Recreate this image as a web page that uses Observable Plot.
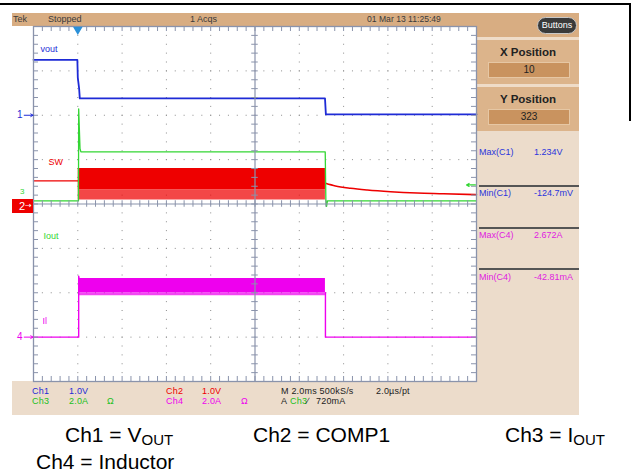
<!DOCTYPE html>
<html><head><meta charset="utf-8">
<script src="https://cdn.jsdelivr.net/npm/d3@7"></script>
<script src="https://cdn.jsdelivr.net/npm/@observablehq/plot@0.6"></script>
<style>
html,body{margin:0;padding:0;background:#fff;}
#wrap{position:relative;width:633px;height:472px;overflow:hidden;font-family:"Liberation Sans",Arial,sans-serif;}
.abs{position:absolute;white-space:nowrap;}
.s{font-size:9px;line-height:10px;}
.cap{font-size:21px;line-height:21px;color:#000;}
.cap sub{font-size:15px;vertical-align:baseline;position:relative;top:3px;}
</style></head><body><div id="wrap"></div>
<script>
// ---------- colours ----------
const BLUE = "#1e2bd6", RED = "#ee0000", GREEN = "#33d633", MAGENTA = "#ee00ee";
const GRID = "#8a93ab";

// ---------- channel settings (offset in divisions, units per division) ----------
const ch1Offset = 2,    ch1PerDiv = 1.0;   // V
const ch2Offset = 0,    ch2PerDiv = 1.0;   // V
const ch3Offset = 0.07, ch3PerDiv = 2.0;   // A
const ch4Offset = -3,   ch4PerDiv = 2.0;   // A

// ---------- data (time in ms, 2.0 ms/div, trigger at 0) ----------
const ch1Time  = [-2, -0.02, 0.0, 0.06, 0.09, 11.16, 11.2, 18];
const ch1Volts = [1.25, 1.25, 0.85, 0.6, 0.38, 0.38, 0.02, 0.02];

const ch2PreTime  = [-2, 0.02];
const ch2PreVolts = [0.52, 0.52];
const ch2BandTime = [0.02, 11.18];
const ch2BandHigh = [0.80, 0.80];
const ch2BandLow  = [0.32, 0.32];
const ch2SpikeLow = [0.09, 0.09];
const ch2DecayTime  = [11.18, 11.63, 12.31, 13.07, 14.12, 15.32, 16.51, 18.0];
const ch2DecayVolts = [0.466, 0.406, 0.354, 0.315, 0.277, 0.248, 0.232, 0.21];

const ch3Time = [-2, 0.03, 0.04, 0.1, 0.14, 11.17, 11.2, 11.23, 11.27, 18];
const ch3Amps = [0, 0, 4.15, 2.35, 2.21, 2.21, 0, -0.25, 0, 0];

const ch4PreTime  = [-2, 0.04, 0.04, 0.06];
const ch4PreAmps  = [0, 0, 2.75, 2.64];
const ch4BandTime = [0.05, 11.18];
const ch4BandHigh = [2.64, 2.64];
const ch4BandLow  = [2.0, 2.0];
const ch4SpikeLow = [1.87, 1.87];
const ch4PostTime = [11.18, 11.18, 18];
const ch4PostAmps = [2.0, 0, 0];

// trace labels
const traceLabels = ["vout", "SW", "Iout", "Il"];
const labelTime   = [-1.68, -1.32, -1.55, -1.59];
const labelDiv    = [3.50, 0.94, -0.73, -2.63];
const labelColor  = [BLUE, RED, GREEN, MAGENTA];

// ground markers
const markerText  = ["1", "4"];
const markerDiv   = [ch1Offset, ch4Offset];
const markerColor = [BLUE, MAGENTA];

// trigger
const triggerTime = [0];
const triggerLevelAmps = 0.72;

// graticule (10 x 8 divisions, 5 minor each)
const minorX = d3.range(0, 51).map(i => -2 + i * 0.4);
const minorY = d3.range(0, 41).map(i => -4 + i * 0.2);
const majorX = d3.range(1, 10).map(i => -2 + i * 2).filter(v => v !== 8);
const majorY = d3.range(1, 8).map(i => -4 + i).filter(v => v !== 0);

// ---------- build tables ----------
const toDiv = (off, per) => v => off + v / per;
const c1 = d3.zip(ch1Time, ch1Volts).map(([t, v]) => ({t, y: toDiv(ch1Offset, ch1PerDiv)(v)}));
const c2pre = d3.zip(ch2PreTime, ch2PreVolts).map(([t, v]) => ({t, y: toDiv(ch2Offset, ch2PerDiv)(v)}));
const c2band = ch2BandTime.map((t, i) => ({t,
  hi: toDiv(ch2Offset, ch2PerDiv)(ch2BandHigh[i]),
  lo: toDiv(ch2Offset, ch2PerDiv)(ch2BandLow[i]),
  sp: toDiv(ch2Offset, ch2PerDiv)(ch2SpikeLow[i])}));
const c2decay = d3.zip(ch2DecayTime, ch2DecayVolts).map(([t, v]) => ({t, y: toDiv(ch2Offset, ch2PerDiv)(v)}));
const c3 = d3.zip(ch3Time, ch3Amps).map(([t, v]) => ({t, y: toDiv(ch3Offset, ch3PerDiv)(v)}));
const c4pre = d3.zip(ch4PreTime, ch4PreAmps).map(([t, v]) => ({t, y: toDiv(ch4Offset, ch4PerDiv)(v)}));
const c4band = ch4BandTime.map((t, i) => ({t,
  hi: toDiv(ch4Offset, ch4PerDiv)(ch4BandHigh[i]),
  lo: toDiv(ch4Offset, ch4PerDiv)(ch4BandLow[i]),
  sp: toDiv(ch4Offset, ch4PerDiv)(ch4SpikeLow[i])}));
const c4post = d3.zip(ch4PostTime, ch4PostAmps).map(([t, v]) => ({t, y: toDiv(ch4Offset, ch4PerDiv)(v)}));
const labels = traceLabels.map((s, i) => ({s, t: labelTime[i], y: labelDiv[i], c: labelColor[i]}));
const markers = markerText.map((s, i) => ({s, y: markerDiv[i], c: markerColor[i]}));

// ---------- HTML panels ----------
const wrap = document.getElementById("wrap");
function box(css, html = "", cls = "abs") {
  const d = document.createElement("div");
  d.className = cls; d.style.cssText = css; d.innerHTML = html; wrap.appendChild(d); return d;
}
// outer frame
box("left:0;top:3px;width:631px;height:2px;background:#000;");
box("left:629px;top:3px;width:2px;height:118px;background:#000;");
// header
box("left:12px;top:13px;width:567px;height:13px;background:#d8ad82;");
box("left:13px;top:14px;color:#3a3a3a;", "Tek", "abs s");
box("left:48px;top:14px;color:#3a3a3a;", "Stopped", "abs s");
box("left:190px;top:14px;color:#3a3a3a;", "1 Acqs", "abs s");
box("left:367px;top:14px;color:#3a3a3a;font-size:8.6px;", "01 Mar 13 11:25:49", "abs s");
// right panel
box("left:477px;top:26px;width:102px;height:11px;background:#d8ad82;");
const sec = (top, title, val) => {
  box(`left:477px;top:${top}px;width:102px;height:44px;background:#dcb48b;border-top:3px solid #efdcc8;`);
  box(`left:477px;top:${top + 9}px;width:102px;text-align:center;font-weight:bold;font-size:11.5px;line-height:13px;color:#222;`, title);
  box(`left:488px;top:${top + 25}px;width:80px;height:14px;background:#c9935f;border:1px solid #e6c7a4;text-align:center;font-size:10px;line-height:14px;color:#222;`, val);
};
sec(37, "X Position", "10");
sec(84, "Y Position", "323");
box("left:477px;top:131px;width:102px;height:284px;background:#ecdccb;");
box("left:537px;top:17px;width:38px;height:15px;background:#3a3a3a;border:1px solid #c8c8c8;border-radius:9px;color:#fff;font-size:9px;line-height:15px;text-align:center;", "Buttons");
const meas = [["Max(C1)", "1.234V", 152, "#2a35dd"], ["Min(C1)", "-124.7mV", 193, "#2a35dd"],
              ["Max(C4)", "2.672A", 235, "#e020e0"], ["Min(C4)", "-42.81mA", 277, "#e020e0"]];
meas.forEach(([a, b, y, c]) => {
  box(`left:479px;top:${y - 5}px;color:${c};`, a, "abs s");
  box(`left:534px;top:${y - 5}px;color:${c};`, b, "abs s");
});
[185, 227, 268].forEach(y => box(`left:479px;top:${y}px;width:100px;height:1.5px;background:#555;`));
// bottom info panel
box("left:12px;top:381px;width:567px;height:34px;background:#ecdccb;");
const info = [
  ["Ch1", 32, 386, BLUE], ["1.0V", 69, 386, BLUE], ["Ch2", 166, 386, RED], ["1.0V", 202, 386, RED],
  ["M 2.0ms 500kS/s", 281, 386, "#222"], ["2.0\u00b5s/pt", 376, 386, "#222"],
  ["Ch3", 32, 396, "#22c022"], ["2.0A", 69, 396, "#22c022"], ["\u03a9", 107, 396, "#22c022"],
  ["Ch4", 166, 396, MAGENTA], ["2.0A", 202, 396, MAGENTA], ["\u03a9", 241, 396, MAGENTA],
  ["A", 281, 396, "#222"], ["Ch3", 290, 396, "#22c022"], ["\u2215", 307, 396, "#222"], ["720mA", 316, 396, "#222"]
];
info.forEach(([s, x, y, c]) => box(`left:${x}px;top:${y}px;color:${c};letter-spacing:0.2px;`, s, "abs s"));
// caption
box("left:65px;top:424px;", "Ch1 = V<sub>OUT</sub>", "abs cap");
box("left:253px;top:424px;", "Ch2 = COMP1", "abs cap");
box("left:505px;top:424px;", "Ch3 = I<sub>OUT</sub>", "abs cap");
box("left:36px;top:451px;", "Ch4 = Inductor", "abs cap");

// ---------- plot ----------
const tick = 0.113, tickX = 0.226;
const plot = Plot.plot({
  width: 633, height: 472,
  marginTop: 26, marginLeft: 33, marginRight: 157, marginBottom: 91,
  x: {domain: [-2, 18], axis: null},
  y: {domain: [-4, 4], axis: null},
  style: {background: "transparent", overflow: "visible", fontFamily: "Liberation Sans, Arial, sans-serif"},
  marks: [
    // dotted grid
    Plot.ruleX(majorX, {stroke: "#8c8c8c", strokeDasharray: "1,7.875"}),
    Plot.ruleY(majorY, {stroke: "#8c8c8c", strokeDasharray: "1,7.86"}),
    // CH2 (red)
    Plot.areaY(c2band, {x: "t", y1: "sp", y2: "lo", fill: RED, fillOpacity: 0.72}),
    Plot.areaY(c2band, {x: "t", y1: "lo", y2: "hi", fill: RED}),
    Plot.line(c2pre, {x: "t", y: "y", stroke: RED, strokeWidth: 1.3}),
    Plot.line(c2decay, {x: "t", y: "y", stroke: RED, strokeWidth: 1.6, curve: "monotone-x"}),
    // CH4 (magenta)
    Plot.areaY(c4band, {x: "t", y1: "sp", y2: "lo", fill: MAGENTA, fillOpacity: 0.72}),
    Plot.areaY(c4band, {x: "t", y1: "lo", y2: "hi", fill: MAGENTA}),
    Plot.line(c4pre, {x: "t", y: "y", stroke: MAGENTA, strokeWidth: 1.4}),
    Plot.line(c4post, {x: "t", y: "y", stroke: MAGENTA, strokeWidth: 1.4}),
    // CH3 (green)
    Plot.line(c3, {x: "t", y: "y", stroke: GREEN, strokeWidth: 1.3}),
    // CH1 (blue)
    Plot.line(c1, {x: "t", y: "y", stroke: BLUE, strokeWidth: 1.8}),
    // solid graticule
    Plot.frame({stroke: GRID, strokeWidth: 1.3}),
    Plot.ruleX([8], {stroke: GRID, strokeWidth: 1.2}),
    Plot.ruleY([0], {stroke: GRID, strokeWidth: 1.2}),
    Plot.ruleX(minorX, {x: d => d, y1: 4, y2: 4 - tick, stroke: GRID}),
    Plot.ruleX(minorX, {x: d => d, y1: -4, y2: -4 + tick, stroke: GRID}),
    Plot.ruleX(minorX, {x: d => d, y1: -tick * 0.65, y2: tick * 0.65, stroke: GRID}),
    Plot.ruleY(minorY, {y: d => d, x1: -2, x2: -2 + tickX, stroke: GRID}),
    Plot.ruleY(minorY, {y: d => d, x1: 18, x2: 18 - tickX, stroke: GRID}),
    Plot.ruleY(minorY, {y: d => d, x1: 8 - tickX * 0.65, x2: 8 + tickX * 0.65, stroke: GRID}),
    // trace labels
    Plot.text(labels, {x: "t", y: "y", text: "s", fill: "c", textAnchor: "start", fontSize: 9}),
    // ground markers: digit + arrow pointing at the graticule edge
    Plot.text(markers, {x: () => -2, y: "y", text: "s", fill: "c", textAnchor: "end", dx: -11, fontSize: 10}),
    Plot.arrow(markers, {x1: () => -2.42, x2: () => -2.02, y1: "y", y2: "y", stroke: "c", strokeWidth: 1, headLength: 4}),
    Plot.text([ch3Offset], {x: () => -2, y: d => d, text: () => "3", fill: GREEN, textAnchor: "end", dx: -9, dy: -9, fontSize: 8}),
    // trigger position & level
    Plot.dot(triggerTime, {x: d => d, y: () => 4, symbol: "triangle", rotate: 180, r: 3.6, fill: "#2a90d8", dy: 3}),
    Plot.arrow([triggerLevelAmps], {x1: () => 17.95, x2: () => 17.55, y1: d => ch3Offset + d / ch3PerDiv, y2: d => ch3Offset + d / ch3PerDiv, stroke: GREEN, strokeWidth: 1.2, headLength: 4})
  ]
});
plot.style.position = "absolute";
plot.style.left = "0px";
plot.style.top = "0px";
wrap.appendChild(plot);

// CH2 ground marker (red box) positioned with the plot's y scale
const yg = plot.scale("y").apply(ch2Offset);
box(`left:12px;top:${yg - 5}px;width:21px;height:14px;background:${RED};color:#fff;font-size:11px;line-height:14px;`,
  `<span style="position:absolute;left:7px;">2</span><span style="position:absolute;left:13px;top:0;font-family:'DejaVu Sans';font-size:8px;">\u2192</span>`);
</script></body></html>
